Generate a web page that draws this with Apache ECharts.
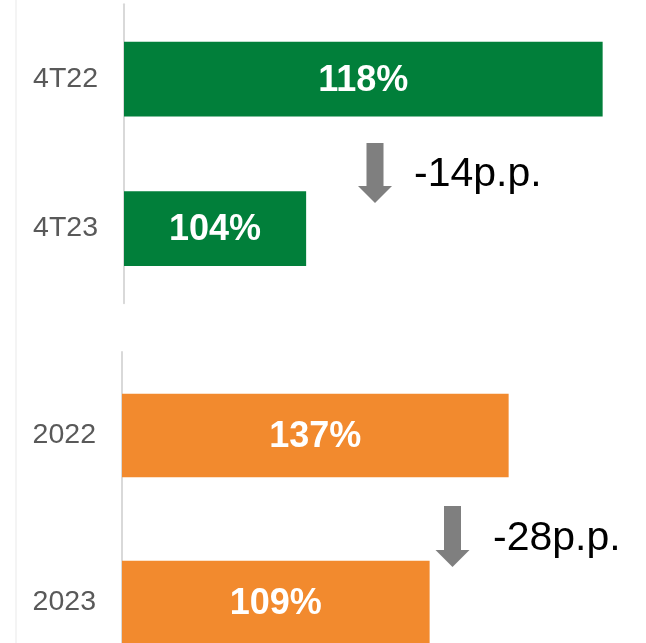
<!DOCTYPE html>
<html>
<head>
<meta charset="utf-8">
<script src="https://cdn.jsdelivr.net/npm/echarts@6/dist/echarts.min.js"></script>
<style>
  html, body { margin: 0; padding: 0; background: #fff; }
  #chart { width: 646px; height: 643px; }
</style>
</head>
<body>
<div id="chart"></div>
<script>
const quarterCats = ['4T22', '4T23']
const quarterValues = [118, 104]
const yearCats = ['2022', '2023']
const yearValues = [137, 109]
const deltaLabels = ['-14p.p.', '-28p.p.']

const font = 'Liberation Sans, Arial, sans-serif'

// down arrow polygon, centred on cx
function arrow(cx, top, headTop, bottom) {
  const s = 8.5, h = 17
  return {
    type: 'polygon',
    silent: true,
    shape: {
      points: [
        [cx - s, top], [cx + s, top], [cx + s, headTop], [cx + h, headTop],
        [cx, bottom], [cx - h, headTop], [cx - s, headTop]
      ]
    },
    style: { fill: '#7f7f7f' }
  }
}

function deltaText(x, y, text) {
  return {
    type: 'text',
    silent: true,
    x: x, y: y,
    style: {
      text: text,
      fill: '#000',
      font: '41px ' + font,
      verticalAlign: 'middle'
    }
  }
}

const catAxis = (idx, cats) => ({
  type: 'category',
  gridIndex: idx,
  data: cats,
  inverse: true,
  axisLine: { lineStyle: { color: '#d9d9d9', width: 2 } },
  axisTick: { show: false },
  axisLabel: { color: '#595959', fontSize: 28.5, fontFamily: font, margin: 26 }
})

const barLabel = {
  show: true,
  position: 'inside',
  offset: [0, 2],
  color: '#fff',
  fontSize: 36,
  fontWeight: 'bold',
  fontFamily: font,
  formatter: '{c}%'
}

const chart = echarts.init(document.getElementById('chart'))
chart.setOption({
  animation: false,
  grid: [
    { left: 124, top: 4.25, width: 521, height: 299, outerBoundsMode: 'none' },
    { left: 122, top: 352, width: 508, height: 334, outerBoundsMode: 'none' }
  ],
  xAxis: [
    { type: 'value', gridIndex: 0, min: 95.4, max: 120, show: false },
    { type: 'value', gridIndex: 1, min: 0, max: 180, show: false }
  ],
  yAxis: [catAxis(0, quarterCats), catAxis(1, yearCats)],
  series: [
    {
      type: 'bar',
      xAxisIndex: 0, yAxisIndex: 0,
      data: quarterValues,
      barCategoryGap: '50%',
      itemStyle: { color: '#017f3a' },
      label: barLabel
    },
    {
      type: 'bar',
      xAxisIndex: 1, yAxisIndex: 1,
      data: yearValues,
      barCategoryGap: '50%',
      itemStyle: { color: '#f28a2e' },
      label: barLabel
    }
  ],
  graphic: [
    {
      type: 'line', silent: true,
      shape: { x1: 16, y1: 0, x2: 16, y2: 643 },
      style: { stroke: '#f4f4f4', lineWidth: 2 }
    },
    arrow(375, 143, 186, 203),
    deltaText(414, 175, deltaLabels[0]),
    arrow(452.5, 506, 550, 567),
    deltaText(493, 539, deltaLabels[1])
  ]
})
</script>
</body>
</html>
